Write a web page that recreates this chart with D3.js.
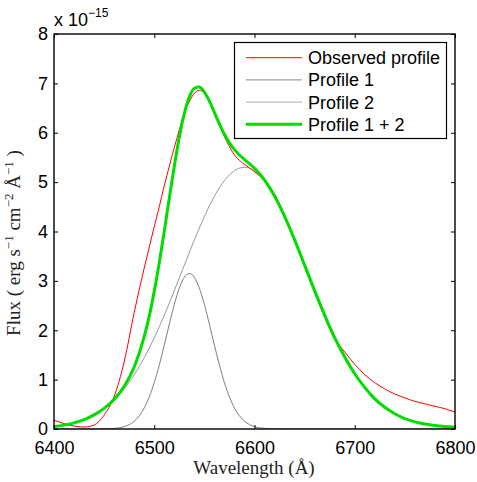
<!DOCTYPE html>
<html>
<head>
<meta charset="utf-8">
<script src="https://cdn.jsdelivr.net/npm/d3@7"></script>
<style>
  html, body { margin: 0; padding: 0; background: #fff; }
  svg { display: block; }
</style>
</head>
<body>
<svg id="chart" width="477" height="482"></svg>
<script>
// Wavelength grid (Å)
const wavelengths = [6400,6410,6420,6430,6440,6450,6460,6470,6480,6490,6495,6500,6505,6510,6515,6520,6525,6530,6535,6540,6545,6550,6555,6560,6565,6570,6575,6580,6585,6590,6595,6600,6610,6620,6630,6640,6650,6660,6670,6680,6690,6700,6710,6720,6730,6740,6750,6760,6770,6780,6790,6800];
// Flux values in units of 1e-15 erg s^-1 cm^-2 Å^-1
const observed = [0.18,0.11,0.06,0.04,0.08,0.28,0.66,1.36,2.36,3.26,3.68,4.10,4.50,4.93,5.32,5.70,6.06,6.40,6.63,6.80,6.86,6.80,6.62,6.38,6.14,5.92,5.72,5.55,5.44,5.36,5.29,5.21,5.03,4.76,4.34,3.86,3.28,2.76,2.26,1.82,1.56,1.31,1.10,0.94,0.81,0.71,0.63,0.56,0.51,0.46,0.41,0.34];
const profile1 = [0,0,0,0,0.001,0.003,0.012,0.048,0.158,0.426,0.648,0.939,1.295,1.698,2.122,2.521,2.853,3.072,3.150,3.072,2.853,2.521,2.122,1.698,1.295,0.939,0.648,0.426,0.267,0.158,0.090,0.048,0.012,0.003,0,0,0,0,0,0,0,0,0,0,0,0,0,0,0,0,0,0];
const profile2 = [0.048,0.078,0.124,0.190,0.284,0.414,0.588,0.815,1.098,1.443,1.639,1.848,2.071,2.306,2.550,2.802,3.059,3.318,3.576,3.829,4.072,4.304,4.519,4.714,4.886,5.031,5.147,5.232,5.283,5.300,5.283,5.232,5.031,4.714,4.304,3.829,3.318,2.802,2.306,1.848,1.46,1.12,0.84,0.61,0.44,0.31,0.21,0.145,0.10,0.07,0.05,0.035];
const profileSum = [0.048,0.078,0.124,0.190,0.285,0.417,0.600,0.863,1.256,1.869,2.287,2.787,3.366,4.004,4.672,5.323,5.912,6.390,6.726,6.901,6.925,6.825,6.641,6.412,6.181,5.970,5.795,5.658,5.550,5.458,5.373,5.280,5.043,4.717,4.304,3.829,3.318,2.802,2.306,1.848,1.46,1.12,0.84,0.61,0.44,0.31,0.21,0.145,0.10,0.07,0.05,0.035];

const xTicks = [6400,6500,6600,6700,6800];
const yTicks = [0,1,2,3,4,5,6,7,8];
const legendLabels = ["Observed profile","Profile 1","Profile 2","Profile 1 + 2"];

const svg = d3.select("#chart");
const L = 54, R = 455, T = 34, B = 429;
const x = d3.scaleLinear().domain([6400, 6800]).range([L, R]);
const y = d3.scaleLinear().domain([0, 8]).range([B, T]);
const sans = "'Liberation Sans', Arial, Helvetica, sans-serif";
const serif = "'Liberation Serif', 'Times New Roman', serif";

svg.append("rect").attr("width", 477).attr("height", 482).attr("fill", "#fff");

svg.append("defs").append("clipPath").attr("id", "clip")
  .append("rect").attr("x", L).attr("y", T).attr("width", R - L).attr("height", B - T);

const plot = svg.append("g").attr("clip-path", "url(#clip)");

const series = [
  { vals: profile2, color: "#8c8c8c", width: 0.9 },
  { vals: profile1, color: "#6e6e6e", width: 0.9 },
  { vals: observed, color: "#ff0000", width: 1 },
  { vals: profileSum, color: "#00dd00", width: 3 }
];
const line = d3.line().curve(d3.curveMonotoneX);
series.forEach(s => {
  line.x((d, i) => x(wavelengths[i])).y(d => y(d));
  plot.append("path").datum(s.vals)
    .attr("fill", "none").attr("stroke", s.color)
    .attr("stroke-width", s.width).attr("stroke-linejoin", "round")
    .attr("d", line);
});

// Axes
function styleAxis(g, hideText) {
  g.select(".domain").remove();
  g.selectAll(".tick line").attr("stroke", "#000").attr("stroke-width", 1);
  g.selectAll(".tick text").attr("fill", "#000").style("font-family", sans).style("font-size", "18px");
  if (hideText) g.selectAll(".tick text").remove();
}
svg.append("g").attr("transform", `translate(0,${B})`)
  .call(d3.axisBottom(x).tickValues(xTicks).tickFormat(d3.format("d")).tickSizeInner(-4).tickSizeOuter(0).tickPadding(12))
  .call(g => styleAxis(g, false));
svg.append("g").attr("transform", `translate(0,${T})`)
  .call(d3.axisTop(x).tickValues(xTicks).tickSizeInner(-4).tickSizeOuter(0))
  .call(g => styleAxis(g, true));
svg.append("g").attr("transform", `translate(${L},0)`)
  .call(d3.axisLeft(y).tickValues(yTicks).tickFormat(d3.format("d")).tickSizeInner(-4).tickSizeOuter(0).tickPadding(6))
  .call(g => styleAxis(g, false));
svg.append("g").attr("transform", `translate(${R},0)`)
  .call(d3.axisRight(y).tickValues(yTicks).tickSizeInner(-4).tickSizeOuter(0))
  .call(g => styleAxis(g, true));

svg.append("rect").attr("x", L).attr("y", T).attr("width", R - L).attr("height", B - T)
  .attr("fill", "none").attr("stroke", "#000").attr("stroke-width", 1.4);

// Exponent label
const ex = svg.append("text").attr("x", L).attr("y", 26)
  .style("font-family", sans).style("font-size", "18px").attr("fill", "#000");
ex.append("tspan").text("x 10");
ex.append("tspan").attr("dy", -9).style("font-size", "12px").text("\u221215");

// X label
svg.append("text").attr("x", 254).attr("y", 474).attr("text-anchor", "middle")
  .style("font-family", serif).style("font-size", "19px").attr("fill", "#222")
  .text("Wavelength (\u00C5)");

// Y label
const yl = svg.append("text").attr("transform", "translate(20,243) rotate(-90)")
  .attr("text-anchor", "middle")
  .style("font-family", serif).style("font-size", "19px").attr("fill", "#222");
yl.append("tspan").text("Flux ( erg s");
yl.append("tspan").attr("dy", -7).style("font-size", "13px").text("\u22121");
yl.append("tspan").attr("dy", 7).text(" cm");
yl.append("tspan").attr("dy", -7).style("font-size", "13px").text("\u22122");
yl.append("tspan").attr("dy", 7).text(" \u00C5");
yl.append("tspan").attr("dy", -7).style("font-size", "13px").text("\u22121");
yl.append("tspan").attr("dy", 7).text("  )");

// Legend
const lg = svg.append("g");
lg.append("rect").attr("x", 234.5).attr("y", 42.5).attr("width", 212).attr("height", 96)
  .attr("fill", "#fff").attr("stroke", "#000").attr("stroke-width", 1.2);
const legendStyles = [
  { color: "#ff0000", width: 1 },
  { color: "#888888", width: 1 },
  { color: "#bbbbbb", width: 1.4 },
  { color: "#00dd00", width: 3 }
];
legendLabels.forEach((lab, i) => {
  const cy = 57.7 + i * 22.2;
  lg.append("line").attr("x1", 246).attr("x2", 302).attr("y1", cy).attr("y2", cy)
    .attr("stroke", legendStyles[i].color).attr("stroke-width", legendStyles[i].width);
  lg.append("text").attr("x", 308).attr("y", cy + 6.5)
    .style("font-family", sans).style("font-size", "18px").attr("fill", "#000").text(lab);
});
</script>
</body>
</html>
